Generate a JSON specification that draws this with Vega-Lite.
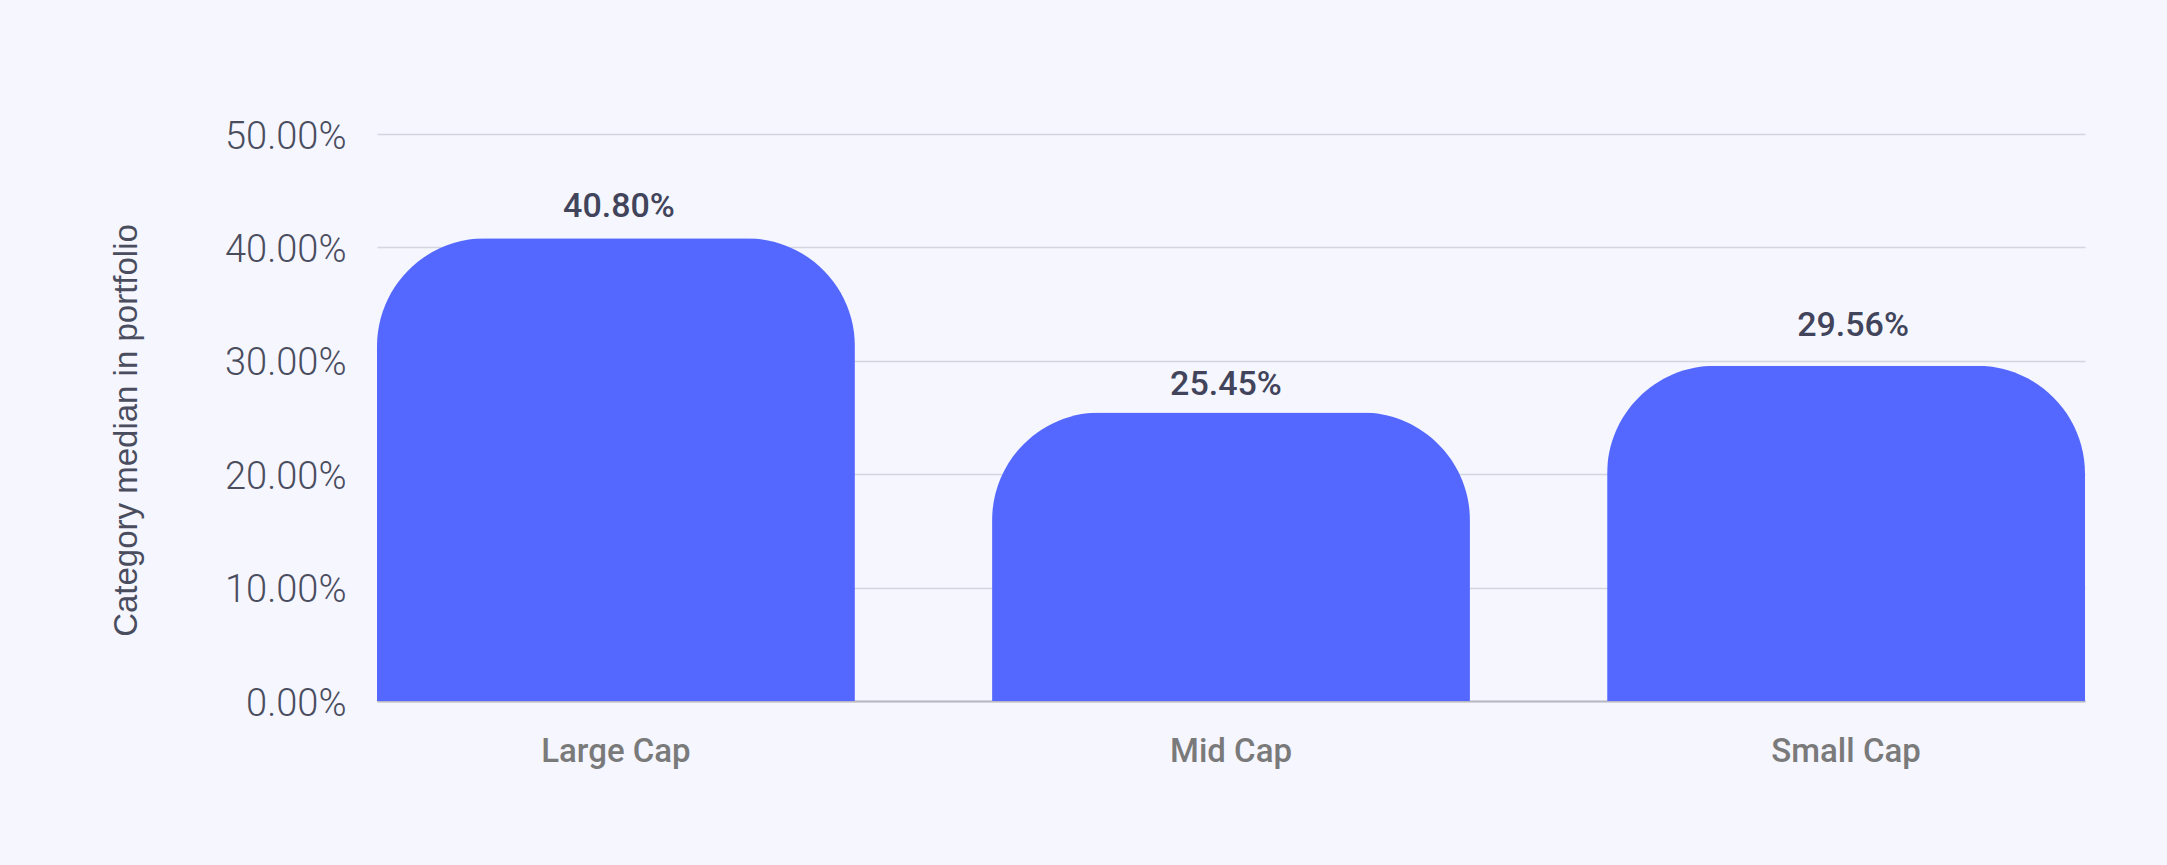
{
  "$schema": "https://vega.github.io/schema/vega-lite/v6.json",
  "width": 1708,
  "height": 567,
  "autosize": {"type": "none"},
  "padding": {"left": 377, "top": 134, "right": 82, "bottom": 164},
  "background": "#f5f6fe",
  "config": {"view": {"stroke": null}},
  "data": {
    "values": [
      {"category": "Large Cap", "value": 0.408},
      {"category": "Mid Cap", "value": 0.2545},
      {"category": "Small Cap", "value": 0.2956}
    ]
  },
  "encoding": {
    "x": {
      "field": "category",
      "type": "nominal",
      "sort": null,
      "scale": {"paddingInner": 0.223, "paddingOuter": 0},
      "axis": {
        "title": null,
        "labelAngle": 0,
        "domain": true,
        "domainColor": "#b8b8c2",
        "domainWidth": 2,
        "ticks": false,
        "tickSize": 0,
        "grid": false,
        "labelPadding": 60,
        "labelBaseline": "alphabetic",
        "labelFont": "Roboto",
        "labelFontWeight": 500,
        "labelFontSize": 33,
        "labelColor": "#7a7a7a"
      }
    },
    "y": {
      "field": "value",
      "type": "quantitative",
      "scale": {"domain": [0, 0.5]},
      "axis": {
        "title": "Category median in portfolio",
        "format": ".2%",
        "values": [0, 0.1, 0.2, 0.3, 0.4, 0.5],
        "grid": true,
        "gridColor": "#d4d5e0",
        "gridWidth": 1.5,
        "domain": false,
        "ticks": false,
        "tickSize": 0,
        "labelPadding": 31,
        "labelFont": "Roboto",
        "labelFontWeight": 300,
        "labelFontSize": 38,
        "labelColor": "#4a4d5e",
        "labelBaseline": "alphabetic",
        "labelOffset": 14,
        "titleFont": "Liberation Sans",
        "titleFontSize": 33,
        "titleFontWeight": "normal",
        "titleColor": "#4a4d5e",
        "titlePadding": 81,
        "titleY": 296
      }
    }
  },
  "layer": [
    {
      "mark": {"type": "bar", "color": "#5468ff", "cornerRadiusTopLeft": 108, "cornerRadiusTopRight": 108}
    },
    {
      "transform": [{"filter": "datum.category === 'Large Cap'"}],
      "mark": {"type": "text", "font": "Roboto", "fontWeight": 500, "fontSize": 34, "color": "#41445a", "baseline": "alphabetic", "dy": -21, "dx": 3},
      "encoding": {"text": {"field": "value", "type": "quantitative", "format": ".2%"}}
    },
    {
      "transform": [{"filter": "datum.category === 'Mid Cap'"}],
      "mark": {"type": "text", "font": "Roboto", "fontWeight": 500, "fontSize": 34, "color": "#41445a", "baseline": "alphabetic", "dy": -17, "dx": -5},
      "encoding": {"text": {"field": "value", "type": "quantitative", "format": ".2%"}}
    },
    {
      "transform": [{"filter": "datum.category === 'Small Cap'"}],
      "mark": {"type": "text", "font": "Roboto", "fontWeight": 500, "fontSize": 34, "color": "#41445a", "baseline": "alphabetic", "dy": -30, "dx": 7},
      "encoding": {"text": {"field": "value", "type": "quantitative", "format": ".2%"}}
    }
  ]
}
